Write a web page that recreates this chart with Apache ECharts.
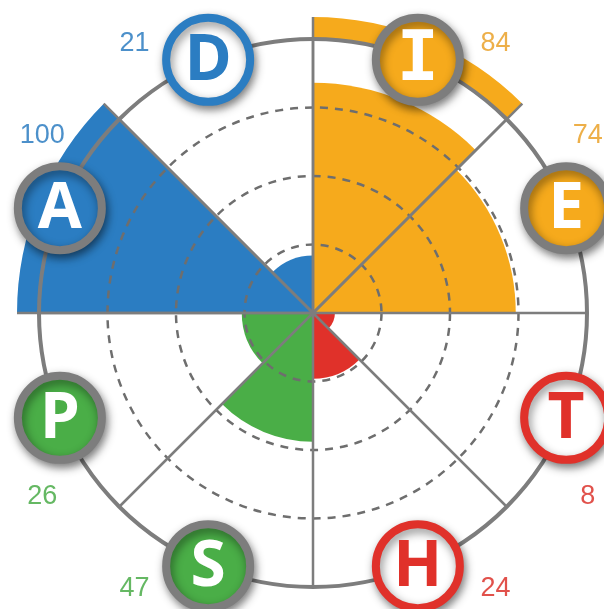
<!DOCTYPE html>
<html>
<head>
<meta charset="utf-8">
<script src="https://cdn.jsdelivr.net/npm/echarts@6/dist/echarts.min.js"></script>
<style>
html, body { margin: 0; padding: 0; background: #fff; }
#container { width: 604px; height: 609px; }
</style>
</head>
<body>
<div id="container"></div>
<script>
// sectors clockwise from 12 o'clock
var letters = ['I', 'E', 'T', 'H', 'S', 'P', 'A', 'D'];
var scores = [84, 74, 8, 24, 47, 26, 100, 21];
var groups = ['orange', 'orange', 'red', 'red', 'green', 'green', 'blue', 'blue'];
var highlight = [1, 0, 0, 0, 0, 0, 1, 0];   // outer band for the dominant ones
var solidBadge = [1, 1, 0, 0, 1, 1, 1, 0];  // filled badge or white badge
var radiusTicks = [0, 25, 50, 75, 100];

var palette = { orange: '#f6aa1c', red: '#e0312a', green: '#4aae47', blue: '#2b7dc2' };
var textPalette = { orange: '#e99b1c', red: '#d9261e', green: '#3fa63c', blue: '#1f74bd' };
var grey = '#7d7d7d';
var cx = 313, cy = 313, R = 274, band = 22;
var maxR = 100 * (R + band) / R;

var myChart = echarts.init(document.getElementById('container'));

var spacer = scores.map(function (v, i) { return highlight[i] ? 100 - v : 0; });
var ring = highlight.map(function (h) { return h ? 100 * band / R : 0; });

// spokes that run out to the highlight band
var spokeColors = letters.map(function (l, k) {
    var prev = (k + letters.length - 1) % letters.length;
    return (highlight[k] || highlight[prev]) ? grey : 'rgba(0,0,0,0)';
});
spokeColors.push(spokeColors[0]);

// dashed rings only inside, the outer one is the solid circle
var ringColors = radiusTicks.map(function (t, i) {
    return (i === 0 || i === radiusTicks.length - 1) ? 'rgba(0,0,0,0)' : '#6e6e6e';
});

function sectorColor(p) { return palette[groups[p.dataIndex]]; }

var badges = letters.map(function (l, i) {
    var c = palette[groups[i]];
    return {
        value: [100, i],
        itemStyle: {
            color: solidBadge[i] ? c : '#fff',
            borderColor: solidBadge[i] ? grey : c
        },
        label: {
            color: solidBadge[i] ? '#fff' : c,
            fontFamily: l === 'I' ? 'DejaVu Sans Mono' : 'Open Sans',
            fontSize: l === 'I' ? 70 : 64
        }
    };
});

var numberLabels = scores.map(function (v, i) {
    var a = 67.5 - 45 * i + (i % 2 === 0 ? -11 : 11);
    return {
        value: [100, (a + 360) % 360],
        label: { color: textPalette[groups[i]] }
    };
});

var noAxis = { show: true, axisLine: { show: false }, axisTick: { show: false }, axisLabel: { show: false } };

var option = {
    animation: false,
    polar: [
        { center: [cx, cy], radius: R + band },
        { center: [cx, cy], radius: R },
        { center: [cx + 2, cy + 3], radius: 327 }
    ],
    angleAxis: [
        Object.assign({}, noAxis, {
            polarIndex: 0, type: 'category', data: letters, startAngle: 90, z: 5,
            splitLine: { show: true, lineStyle: { color: spokeColors, width: 2.5 } }
        }),
        Object.assign({}, noAxis, {
            polarIndex: 1, type: 'category', data: letters, startAngle: 90, z: 5,
            axisLine: { show: true, lineStyle: { color: grey, width: 4 } },
            splitLine: { show: true, lineStyle: { color: grey, width: 2.5 } }
        }),
        Object.assign({}, noAxis, {
            polarIndex: 2, type: 'value', min: 0, max: 360, startAngle: 0, clockwise: false,
            splitLine: { show: false }
        })
    ],
    radiusAxis: [
        Object.assign({}, noAxis, { polarIndex: 0, type: 'value', min: 0, max: maxR, splitLine: { show: false } }),
        Object.assign({}, noAxis, {
            polarIndex: 1, type: 'value', min: 0, max: 100, interval: 25, z: 5,
            splitLine: { show: true, lineStyle: { color: ringColors, width: 2.5, type: [8, 7] } }
        }),
        Object.assign({}, noAxis, { polarIndex: 2, type: 'value', min: 0, max: 100, splitLine: { show: false } })
    ],
    series: [
        {
            type: 'bar', coordinateSystem: 'polar', polarIndex: 0, stack: 'score',
            barCategoryGap: '0%', data: scores, itemStyle: { color: sectorColor }
        },
        {
            type: 'bar', coordinateSystem: 'polar', polarIndex: 0, stack: 'score',
            barCategoryGap: '0%', data: spacer, itemStyle: { color: 'rgba(0,0,0,0)' }
        },
        {
            type: 'bar', coordinateSystem: 'polar', polarIndex: 0, stack: 'score',
            barCategoryGap: '0%', data: ring, itemStyle: { color: sectorColor }
        },
        {
            type: 'scatter', coordinateSystem: 'polar', polarIndex: 1, z: 10,
            symbol: 'circle', symbolSize: 84,
            itemStyle: {
                borderWidth: 8, opacity: 1,
                shadowBlur: 10, shadowColor: 'rgba(0,0,0,0.45)', shadowOffsetX: 2, shadowOffsetY: 4
            },
            label: {
                show: true, position: 'inside', fontWeight: 'bold', offset: [0, 2],
                formatter: function (p) { return letters[p.dataIndex]; }
            },
            data: badges
        },
        {
            type: 'scatter', coordinateSystem: 'polar', polarIndex: 2, z: 10,
            symbolSize: 1, itemStyle: { color: 'rgba(0,0,0,0)' },
            label: {
                show: true, position: 'inside', fontSize: 27, fontFamily: 'Liberation Sans',
                formatter: function (p) { return scores[p.dataIndex]; }
            },
            data: numberLabels
        }
    ]
};
myChart.setOption(option);
</script>
</body>
</html>
